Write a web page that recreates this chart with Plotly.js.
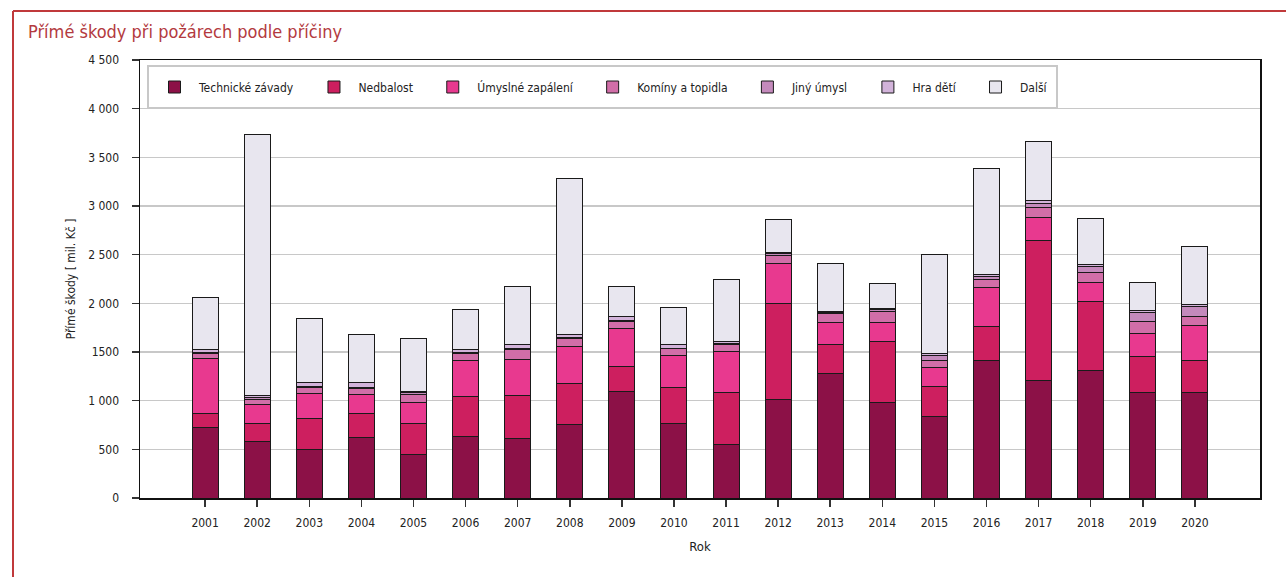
<!DOCTYPE html>
<html>
<head>
<meta charset="utf-8">
<script src="https://cdn.plot.ly/plotly-3.0.1.min.js"></script>
<style>
html,body{margin:0;padding:0;background:#fff;}
#chart{width:1286px;height:577px;}
</style>
</head>
<body>
<div id="chart"></div>
<script>
const years = ['2001','2002','2003','2004','2005','2006','2007','2008','2009','2010','2011','2012','2013','2014','2015','2016','2017','2018','2019','2020'];
const technicke = [729,582,497,623,445,630,616,757,1092,764,551,1010,1281,983,842,1408,1205,1312,1082,1082];
const nedbalost = [141,182,318,243,322,408,442,418,254,370,531,993,301,627,302,356,1442,709,373,329];
const umyslne = [565,195,257,199,216,370,363,380,394,328,421,405,219,195,198,400,237,195,237,360];
const kominy = [45,58,62,58,79,75,103,79,72,69,72,85,93,116,72,79,99,96,126,92];
const jinyUmysl = [10,20,8,12,17,10,7,20,14,10,17,14,10,17,48,28,41,65,86,103];
const hraDeti = [40,20,43,53,20,31,48,24,34,41,21,14,10,14,21,24,34,20,21,27];
const dalsi = [532,2682,657,487,541,414,589,1603,315,377,630,345,494,250,1017,1089,600,476,294,593];

const seriesNames = ['Technické závady','Nedbalost','Úmyslné zapálení','Komíny a topidla','Jiný úmysl','Hra dětí','Další'];
const seriesValues = [technicke,nedbalost,umyslne,kominy,jinyUmysl,hraDeti,dalsi];
const seriesColors = ['#8c1147','#cd1f5f','#e8398f','#d16ea8','#c48abc','#d2b3da','#e8e6ef'];

const yTickVals = [0,500,1000,1500,2000,2500,3000,3500,4000,4500];
const yTickText = ['0','500','1 000','1500','2 000','2 500','3 000','3 500','4 000','4 500'];

const FONT = '"DejaVu Sans Condensed", "Liberation Sans Narrow", Roboto, sans-serif';
const PAD = '\u00a0\u00a0\u00a0';

const traces = seriesNames.map((n,i)=>({
  type:'bar', name:n + PAD, x:years, y:seriesValues[i],
  marker:{color:seriesColors[i], line:{color:'#1a1a1a', width:1}},
  hoverinfo:'x+y'
}));

// plot area in pixels: left 140, right 1260, top 60, bottom 498
const px = v => (v-140)/1120;
const py = v => (498-v)/438;

const layout = {
  width:1286, height:577,
  paper_bgcolor:'#fff', plot_bgcolor:'#fff',
  margin:{l:140, r:26, t:60, b:79},
  font:{family:FONT, size:12, color:'#222'},
  barmode:'stack', bargap:0.5,
  showlegend:true,
  title:{text:'Přímé škody při požárech podle příčiny', x:28/1286, xanchor:'left', xref:'container',
         y:1-32/577, yanchor:'middle', yref:'container',
         font:{family:FONT, size:18, color:'#b33a3e'}},
  legend:{orientation:'h', x:px(150), xanchor:'left', y:py(87), yanchor:'middle',
          bgcolor:'rgba(0,0,0,0)', borderwidth:0, itemwidth:39,
          font:{family:FONT, size:12, color:'#222'}, traceorder:'normal'},
  xaxis:{type:'category', range:[-1.25, 20.25], showline:true, linecolor:'#111', linewidth:1.5, mirror:true,
         ticks:'outside', ticklen:7, tickcolor:'#333', tickwidth:1.5, ticklabelstandoff:6,
         tickfont:{family:FONT, size:12, color:'#222'},
         title:{text:'Rok', standoff:13, font:{family:FONT, size:13, color:'#222'}}, fixedrange:true},
  yaxis:{range:[0,4500], tickvals:yTickVals, ticktext:yTickText, showline:true, linecolor:'#111', linewidth:1.5, mirror:true,
         ticks:'outside', ticklen:7, tickcolor:'#333', tickwidth:1.5, ticklabelstandoff:10,
         gridcolor:'#c8c8c8', gridwidth:1.5, zeroline:false,
         tickfont:{family:FONT, size:12, color:'#222'},
         title:{text:'Přímé škody [ mil. Kč ]', standoff:10, font:{family:FONT, size:12, color:'#222'}}, fixedrange:true},
  shapes:[
    {type:'line', xref:'paper', yref:'paper', x0:px(13), x1:px(13), y0:py(600), y1:py(11), line:{color:'#c0393b', width:2}},
    {type:'line', xref:'paper', yref:'paper', x0:px(13), x1:px(1300), y0:py(11), y1:py(11), line:{color:'#c0393b', width:2}},
    {type:'rect', xref:'paper', yref:'paper', x0:px(148), x1:px(1057), y0:py(108), y1:py(66),
     line:{color:'#c8c8c8', width:2}, fillcolor:'#fff', layer:'above'}
  ]
};

Plotly.newPlot('chart', traces, layout, {displayModeBar:false, staticPlot:true});
</script>
</body>
</html>
